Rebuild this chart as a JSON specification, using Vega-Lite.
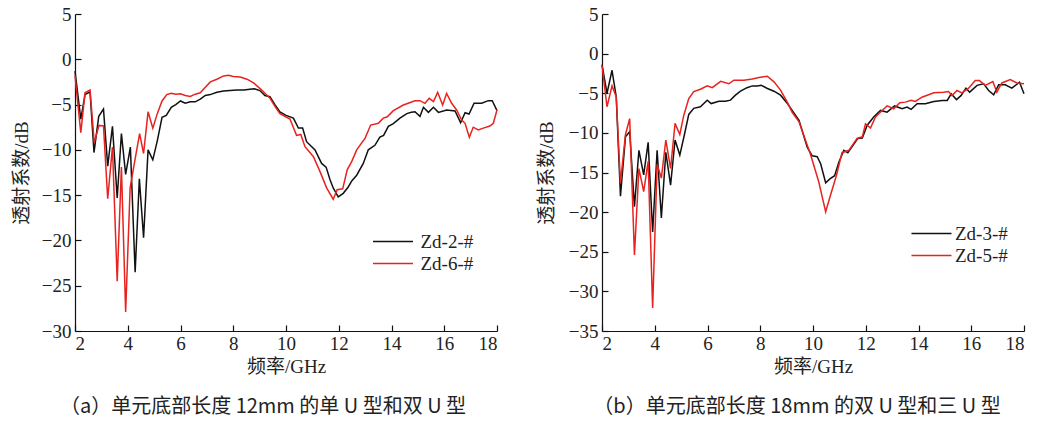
{
  "$schema": "https://vega.github.io/schema/vega-lite/v6.json",
  "padding": {"left": 12, "top": 5, "right": 2, "bottom": 8},
  "background": "white",
  "spacing": 37,
  "config": {
    "view": {"stroke": null},
    "axis": {
      "grid": false,
      "domainColor": "#111",
      "tickColor": "#111",
      "tickSize": -6,
      "domainWidth": 1.2,
      "tickWidth": 1.2,
      "labelFont": "Liberation Serif",
      "labelFontSize": 19,
      "labelColor": "#222",
      "titleFont": "Liberation Serif, Noto Sans CJK SC",
      "titleFontSize": 19,
      "titleFontWeight": "normal",
      "titleColor": "#222"
    },
    "legend": {
      "orient": "none",
      "title": null,
      "labelFont": "Liberation Serif",
      "labelFontSize": 19,
      "labelColor": "#222",
      "symbolType": "M-4,0H4",
      "symbolSize": 100,
      "symbolStrokeWidth": 1.5,
      "rowPadding": 2,
      "padding": 0
    },
    "title": {
      "orient": "bottom",
      "font": "Noto Sans CJK SC",
      "fontSize": 20,
      "fontWeight": "normal",
      "color": "#222",
      "offset": 21,
      "anchor": "middle"
    }
  },
  "datasets": {
    "a": [
      {"f":2.0,"v":-1.3,"s":"Zd-2-#"},{"f":2.22,"v":-6.6,"s":"Zd-2-#"},{"f":2.38,"v":-3.9,"s":"Zd-2-#"},{"f":2.57,"v":-3.6,"s":"Zd-2-#"},{"f":2.72,"v":-10.3,"s":"Zd-2-#"},{"f":2.9,"v":-6.3,"s":"Zd-2-#"},{"f":3.08,"v":-5.5,"s":"Zd-2-#"},{"f":3.24,"v":-11.8,"s":"Zd-2-#"},{"f":3.42,"v":-7.4,"s":"Zd-2-#"},{"f":3.6,"v":-15.3,"s":"Zd-2-#"},{"f":3.76,"v":-8.2,"s":"Zd-2-#"},{"f":3.92,"v":-12.7,"s":"Zd-2-#"},{"f":4.1,"v":-9.7,"s":"Zd-2-#"},{"f":4.28,"v":-23.5,"s":"Zd-2-#"},{"f":4.44,"v":-13.2,"s":"Zd-2-#"},{"f":4.6,"v":-19.7,"s":"Zd-2-#"},{"f":4.77,"v":-10.0,"s":"Zd-2-#"},{"f":4.95,"v":-11.1,"s":"Zd-2-#"},{"f":5.12,"v":-9.0,"s":"Zd-2-#"},{"f":5.3,"v":-6.4,"s":"Zd-2-#"},{"f":5.46,"v":-6.2,"s":"Zd-2-#"},{"f":5.65,"v":-5.3,"s":"Zd-2-#"},{"f":5.82,"v":-5.0,"s":"Zd-2-#"},{"f":6.0,"v":-4.6,"s":"Zd-2-#"},{"f":6.18,"v":-4.85,"s":"Zd-2-#"},{"f":6.37,"v":-4.7,"s":"Zd-2-#"},{"f":6.56,"v":-4.7,"s":"Zd-2-#"},{"f":6.75,"v":-4.4,"s":"Zd-2-#"},{"f":6.94,"v":-4.0,"s":"Zd-2-#"},{"f":7.13,"v":-3.9,"s":"Zd-2-#"},{"f":7.38,"v":-3.65,"s":"Zd-2-#"},{"f":7.63,"v":-3.5,"s":"Zd-2-#"},{"f":7.88,"v":-3.45,"s":"Zd-2-#"},{"f":8.14,"v":-3.4,"s":"Zd-2-#"},{"f":8.4,"v":-3.4,"s":"Zd-2-#"},{"f":8.63,"v":-3.3,"s":"Zd-2-#"},{"f":8.8,"v":-3.25,"s":"Zd-2-#"},{"f":9.01,"v":-3.45,"s":"Zd-2-#"},{"f":9.2,"v":-4.0,"s":"Zd-2-#"},{"f":9.39,"v":-4.13,"s":"Zd-2-#"},{"f":9.58,"v":-5.0,"s":"Zd-2-#"},{"f":9.77,"v":-5.8,"s":"Zd-2-#"},{"f":10.0,"v":-6.2,"s":"Zd-2-#"},{"f":10.28,"v":-6.5,"s":"Zd-2-#"},{"f":10.47,"v":-7.6,"s":"Zd-2-#"},{"f":10.63,"v":-7.6,"s":"Zd-2-#"},{"f":10.78,"v":-9.1,"s":"Zd-2-#"},{"f":11.1,"v":-10.0,"s":"Zd-2-#"},{"f":11.35,"v":-11.5,"s":"Zd-2-#"},{"f":11.52,"v":-11.9,"s":"Zd-2-#"},{"f":11.67,"v":-13.3,"s":"Zd-2-#"},{"f":11.79,"v":-14.2,"s":"Zd-2-#"},{"f":11.98,"v":-15.2,"s":"Zd-2-#"},{"f":12.17,"v":-14.8,"s":"Zd-2-#"},{"f":12.36,"v":-14.1,"s":"Zd-2-#"},{"f":12.5,"v":-13.4,"s":"Zd-2-#"},{"f":12.68,"v":-12.8,"s":"Zd-2-#"},{"f":12.93,"v":-11.5,"s":"Zd-2-#"},{"f":13.12,"v":-10.0,"s":"Zd-2-#"},{"f":13.37,"v":-9.5,"s":"Zd-2-#"},{"f":13.56,"v":-8.6,"s":"Zd-2-#"},{"f":13.7,"v":-8.4,"s":"Zd-2-#"},{"f":13.88,"v":-7.4,"s":"Zd-2-#"},{"f":14.07,"v":-7.1,"s":"Zd-2-#"},{"f":14.32,"v":-6.5,"s":"Zd-2-#"},{"f":14.58,"v":-6.0,"s":"Zd-2-#"},{"f":14.75,"v":-5.85,"s":"Zd-2-#"},{"f":14.89,"v":-5.8,"s":"Zd-2-#"},{"f":15.08,"v":-6.3,"s":"Zd-2-#"},{"f":15.21,"v":-5.3,"s":"Zd-2-#"},{"f":15.4,"v":-5.86,"s":"Zd-2-#"},{"f":15.59,"v":-5.3,"s":"Zd-2-#"},{"f":15.78,"v":-5.86,"s":"Zd-2-#"},{"f":16.09,"v":-5.6,"s":"Zd-2-#"},{"f":16.41,"v":-5.7,"s":"Zd-2-#"},{"f":16.62,"v":-7.0,"s":"Zd-2-#"},{"f":16.79,"v":-5.9,"s":"Zd-2-#"},{"f":16.94,"v":-6.05,"s":"Zd-2-#"},{"f":17.13,"v":-4.86,"s":"Zd-2-#"},{"f":17.42,"v":-4.86,"s":"Zd-2-#"},{"f":17.67,"v":-4.57,"s":"Zd-2-#"},{"f":17.82,"v":-4.57,"s":"Zd-2-#"},{"f":18.0,"v":-5.67,"s":"Zd-2-#"},
      {"f":2.0,"v":-1.8,"s":"Zd-6-#"},{"f":2.22,"v":-8.1,"s":"Zd-6-#"},{"f":2.38,"v":-3.7,"s":"Zd-6-#"},{"f":2.57,"v":-3.4,"s":"Zd-6-#"},{"f":2.73,"v":-9.2,"s":"Zd-6-#"},{"f":2.91,"v":-7.3,"s":"Zd-6-#"},{"f":3.08,"v":-7.35,"s":"Zd-6-#"},{"f":3.24,"v":-15.4,"s":"Zd-6-#"},{"f":3.42,"v":-9.7,"s":"Zd-6-#"},{"f":3.6,"v":-24.5,"s":"Zd-6-#"},{"f":3.76,"v":-11.9,"s":"Zd-6-#"},{"f":3.92,"v":-27.9,"s":"Zd-6-#"},{"f":4.09,"v":-14.2,"s":"Zd-6-#"},{"f":4.28,"v":-11.0,"s":"Zd-6-#"},{"f":4.45,"v":-8.2,"s":"Zd-6-#"},{"f":4.6,"v":-10.4,"s":"Zd-6-#"},{"f":4.77,"v":-5.8,"s":"Zd-6-#"},{"f":4.95,"v":-7.6,"s":"Zd-6-#"},{"f":5.12,"v":-6.0,"s":"Zd-6-#"},{"f":5.3,"v":-4.6,"s":"Zd-6-#"},{"f":5.48,"v":-3.9,"s":"Zd-6-#"},{"f":5.65,"v":-3.75,"s":"Zd-6-#"},{"f":5.82,"v":-3.86,"s":"Zd-6-#"},{"f":6.0,"v":-3.8,"s":"Zd-6-#"},{"f":6.18,"v":-4.0,"s":"Zd-6-#"},{"f":6.37,"v":-4.1,"s":"Zd-6-#"},{"f":6.56,"v":-3.85,"s":"Zd-6-#"},{"f":6.75,"v":-3.7,"s":"Zd-6-#"},{"f":6.94,"v":-3.1,"s":"Zd-6-#"},{"f":7.13,"v":-2.5,"s":"Zd-6-#"},{"f":7.38,"v":-2.2,"s":"Zd-6-#"},{"f":7.63,"v":-1.84,"s":"Zd-6-#"},{"f":7.82,"v":-1.76,"s":"Zd-6-#"},{"f":8.0,"v":-1.9,"s":"Zd-6-#"},{"f":8.26,"v":-1.95,"s":"Zd-6-#"},{"f":8.52,"v":-2.2,"s":"Zd-6-#"},{"f":8.77,"v":-2.6,"s":"Zd-6-#"},{"f":9.08,"v":-3.4,"s":"Zd-6-#"},{"f":9.39,"v":-4.3,"s":"Zd-6-#"},{"f":9.58,"v":-5.2,"s":"Zd-6-#"},{"f":9.77,"v":-6.0,"s":"Zd-6-#"},{"f":10.15,"v":-6.6,"s":"Zd-6-#"},{"f":10.4,"v":-8.4,"s":"Zd-6-#"},{"f":10.56,"v":-8.3,"s":"Zd-6-#"},{"f":10.72,"v":-9.65,"s":"Zd-6-#"},{"f":11.04,"v":-10.75,"s":"Zd-6-#"},{"f":11.29,"v":-12.4,"s":"Zd-6-#"},{"f":11.54,"v":-14.2,"s":"Zd-6-#"},{"f":11.79,"v":-15.45,"s":"Zd-6-#"},{"f":11.94,"v":-14.4,"s":"Zd-6-#"},{"f":12.15,"v":-14.3,"s":"Zd-6-#"},{"f":12.32,"v":-12.2,"s":"Zd-6-#"},{"f":12.49,"v":-11.3,"s":"Zd-6-#"},{"f":12.68,"v":-10.0,"s":"Zd-6-#"},{"f":13.0,"v":-8.7,"s":"Zd-6-#"},{"f":13.21,"v":-7.26,"s":"Zd-6-#"},{"f":13.5,"v":-7.07,"s":"Zd-6-#"},{"f":13.69,"v":-6.5,"s":"Zd-6-#"},{"f":13.84,"v":-6.35,"s":"Zd-6-#"},{"f":14.07,"v":-5.67,"s":"Zd-6-#"},{"f":14.45,"v":-5.05,"s":"Zd-6-#"},{"f":14.89,"v":-4.57,"s":"Zd-6-#"},{"f":15.08,"v":-4.57,"s":"Zd-6-#"},{"f":15.27,"v":-4.86,"s":"Zd-6-#"},{"f":15.43,"v":-4.31,"s":"Zd-6-#"},{"f":15.59,"v":-4.68,"s":"Zd-6-#"},{"f":15.75,"v":-3.65,"s":"Zd-6-#"},{"f":15.94,"v":-5.05,"s":"Zd-6-#"},{"f":16.09,"v":-3.76,"s":"Zd-6-#"},{"f":16.28,"v":-4.86,"s":"Zd-6-#"},{"f":16.47,"v":-5.6,"s":"Zd-6-#"},{"f":16.66,"v":-6.7,"s":"Zd-6-#"},{"f":16.79,"v":-7.07,"s":"Zd-6-#"},{"f":16.95,"v":-8.6,"s":"Zd-6-#"},{"f":17.1,"v":-7.5,"s":"Zd-6-#"},{"f":17.29,"v":-7.8,"s":"Zd-6-#"},{"f":17.48,"v":-7.6,"s":"Zd-6-#"},{"f":17.73,"v":-7.37,"s":"Zd-6-#"},{"f":17.86,"v":-7.07,"s":"Zd-6-#"},{"f":18.0,"v":-5.6,"s":"Zd-6-#"}
    ],
    "b": [
      {"f":2.0,"v":-1.4,"s":"Zd-3-#"},{"f":2.19,"v":-5.0,"s":"Zd-3-#"},{"f":2.38,"v":-2.1,"s":"Zd-3-#"},{"f":2.54,"v":-5.45,"s":"Zd-3-#"},{"f":2.7,"v":-18.0,"s":"Zd-3-#"},{"f":2.89,"v":-10.5,"s":"Zd-3-#"},{"f":3.05,"v":-9.85,"s":"Zd-3-#"},{"f":3.23,"v":-19.3,"s":"Zd-3-#"},{"f":3.4,"v":-12.2,"s":"Zd-3-#"},{"f":3.58,"v":-15.3,"s":"Zd-3-#"},{"f":3.75,"v":-11.2,"s":"Zd-3-#"},{"f":3.92,"v":-22.5,"s":"Zd-3-#"},{"f":4.09,"v":-12.2,"s":"Zd-3-#"},{"f":4.25,"v":-20.75,"s":"Zd-3-#"},{"f":4.42,"v":-12.45,"s":"Zd-3-#"},{"f":4.6,"v":-16.6,"s":"Zd-3-#"},{"f":4.77,"v":-10.9,"s":"Zd-3-#"},{"f":4.95,"v":-12.8,"s":"Zd-3-#"},{"f":5.12,"v":-10.3,"s":"Zd-3-#"},{"f":5.29,"v":-7.67,"s":"Zd-3-#"},{"f":5.48,"v":-6.9,"s":"Zd-3-#"},{"f":5.73,"v":-6.7,"s":"Zd-3-#"},{"f":5.99,"v":-5.87,"s":"Zd-3-#"},{"f":6.14,"v":-6.3,"s":"Zd-3-#"},{"f":6.43,"v":-6.0,"s":"Zd-3-#"},{"f":6.68,"v":-6.0,"s":"Zd-3-#"},{"f":6.87,"v":-5.87,"s":"Zd-3-#"},{"f":7.06,"v":-5.24,"s":"Zd-3-#"},{"f":7.25,"v":-4.74,"s":"Zd-3-#"},{"f":7.5,"v":-4.3,"s":"Zd-3-#"},{"f":7.7,"v":-4.07,"s":"Zd-3-#"},{"f":7.89,"v":-4.07,"s":"Zd-3-#"},{"f":8.04,"v":-4.0,"s":"Zd-3-#"},{"f":8.27,"v":-4.4,"s":"Zd-3-#"},{"f":8.52,"v":-4.74,"s":"Zd-3-#"},{"f":8.77,"v":-5.24,"s":"Zd-3-#"},{"f":9.03,"v":-6.3,"s":"Zd-3-#"},{"f":9.21,"v":-7.17,"s":"Zd-3-#"},{"f":9.47,"v":-8.43,"s":"Zd-3-#"},{"f":9.78,"v":-11.8,"s":"Zd-3-#"},{"f":9.97,"v":-12.9,"s":"Zd-3-#"},{"f":10.16,"v":-13.0,"s":"Zd-3-#"},{"f":10.29,"v":-13.9,"s":"Zd-3-#"},{"f":10.48,"v":-16.3,"s":"Zd-3-#"},{"f":10.64,"v":-15.8,"s":"Zd-3-#"},{"f":10.82,"v":-15.4,"s":"Zd-3-#"},{"f":10.98,"v":-13.7,"s":"Zd-3-#"},{"f":11.17,"v":-12.2,"s":"Zd-3-#"},{"f":11.32,"v":-12.5,"s":"Zd-3-#"},{"f":11.55,"v":-11.4,"s":"Zd-3-#"},{"f":11.7,"v":-10.7,"s":"Zd-3-#"},{"f":11.87,"v":-10.65,"s":"Zd-3-#"},{"f":12.05,"v":-9.06,"s":"Zd-3-#"},{"f":12.3,"v":-8.0,"s":"Zd-3-#"},{"f":12.56,"v":-7.17,"s":"Zd-3-#"},{"f":12.81,"v":-7.38,"s":"Zd-3-#"},{"f":13.09,"v":-6.6,"s":"Zd-3-#"},{"f":13.38,"v":-6.96,"s":"Zd-3-#"},{"f":13.57,"v":-6.75,"s":"Zd-3-#"},{"f":13.72,"v":-7.04,"s":"Zd-3-#"},{"f":13.95,"v":-6.33,"s":"Zd-3-#"},{"f":14.26,"v":-6.33,"s":"Zd-3-#"},{"f":14.58,"v":-6.04,"s":"Zd-3-#"},{"f":14.9,"v":-5.9,"s":"Zd-3-#"},{"f":15.09,"v":-5.9,"s":"Zd-3-#"},{"f":15.24,"v":-5.07,"s":"Zd-3-#"},{"f":15.44,"v":-5.8,"s":"Zd-3-#"},{"f":15.61,"v":-5.3,"s":"Zd-3-#"},{"f":15.8,"v":-4.36,"s":"Zd-3-#"},{"f":15.94,"v":-4.86,"s":"Zd-3-#"},{"f":16.22,"v":-4.0,"s":"Zd-3-#"},{"f":16.47,"v":-3.8,"s":"Zd-3-#"},{"f":16.66,"v":-4.65,"s":"Zd-3-#"},{"f":16.85,"v":-5.2,"s":"Zd-3-#"},{"f":17.04,"v":-3.94,"s":"Zd-3-#"},{"f":17.29,"v":-3.94,"s":"Zd-3-#"},{"f":17.54,"v":-4.36,"s":"Zd-3-#"},{"f":17.83,"v":-3.6,"s":"Zd-3-#"},{"f":18.0,"v":-5.07,"s":"Zd-3-#"},
      {"f":2.0,"v":-1.47,"s":"Zd-5-#"},{"f":2.19,"v":-6.7,"s":"Zd-5-#"},{"f":2.38,"v":-4.07,"s":"Zd-5-#"},{"f":2.54,"v":-5.45,"s":"Zd-5-#"},{"f":2.7,"v":-16.35,"s":"Zd-5-#"},{"f":2.89,"v":-10.2,"s":"Zd-5-#"},{"f":3.05,"v":-8.2,"s":"Zd-5-#"},{"f":3.23,"v":-25.4,"s":"Zd-5-#"},{"f":3.4,"v":-14.5,"s":"Zd-5-#"},{"f":3.58,"v":-17.4,"s":"Zd-5-#"},{"f":3.75,"v":-13.6,"s":"Zd-5-#"},{"f":3.92,"v":-32.1,"s":"Zd-5-#"},{"f":4.09,"v":-14.0,"s":"Zd-5-#"},{"f":4.25,"v":-15.7,"s":"Zd-5-#"},{"f":4.42,"v":-10.9,"s":"Zd-5-#"},{"f":4.6,"v":-14.5,"s":"Zd-5-#"},{"f":4.77,"v":-8.8,"s":"Zd-5-#"},{"f":4.95,"v":-10.2,"s":"Zd-5-#"},{"f":5.1,"v":-7.8,"s":"Zd-5-#"},{"f":5.29,"v":-5.66,"s":"Zd-5-#"},{"f":5.48,"v":-4.8,"s":"Zd-5-#"},{"f":5.73,"v":-4.5,"s":"Zd-5-#"},{"f":5.99,"v":-4.07,"s":"Zd-5-#"},{"f":6.18,"v":-4.3,"s":"Zd-5-#"},{"f":6.5,"v":-3.5,"s":"Zd-5-#"},{"f":6.81,"v":-3.8,"s":"Zd-5-#"},{"f":7.0,"v":-3.35,"s":"Zd-5-#"},{"f":7.38,"v":-3.35,"s":"Zd-5-#"},{"f":7.7,"v":-3.2,"s":"Zd-5-#"},{"f":7.95,"v":-3.0,"s":"Zd-5-#"},{"f":8.27,"v":-2.85,"s":"Zd-5-#"},{"f":8.52,"v":-3.56,"s":"Zd-5-#"},{"f":8.77,"v":-4.6,"s":"Zd-5-#"},{"f":9.03,"v":-6.16,"s":"Zd-5-#"},{"f":9.21,"v":-7.4,"s":"Zd-5-#"},{"f":9.47,"v":-8.6,"s":"Zd-5-#"},{"f":9.91,"v":-12.75,"s":"Zd-5-#"},{"f":10.22,"v":-16.2,"s":"Zd-5-#"},{"f":10.48,"v":-19.96,"s":"Zd-5-#"},{"f":10.66,"v":-17.9,"s":"Zd-5-#"},{"f":10.89,"v":-15.35,"s":"Zd-5-#"},{"f":11.1,"v":-12.5,"s":"Zd-5-#"},{"f":11.36,"v":-12.2,"s":"Zd-5-#"},{"f":11.67,"v":-10.7,"s":"Zd-5-#"},{"f":11.87,"v":-10.5,"s":"Zd-5-#"},{"f":11.99,"v":-8.85,"s":"Zd-5-#"},{"f":12.18,"v":-9.4,"s":"Zd-5-#"},{"f":12.37,"v":-8.0,"s":"Zd-5-#"},{"f":12.62,"v":-7.17,"s":"Zd-5-#"},{"f":12.81,"v":-6.6,"s":"Zd-5-#"},{"f":13.06,"v":-6.96,"s":"Zd-5-#"},{"f":13.29,"v":-6.2,"s":"Zd-5-#"},{"f":13.5,"v":-6.12,"s":"Zd-5-#"},{"f":13.72,"v":-5.9,"s":"Zd-5-#"},{"f":13.88,"v":-6.04,"s":"Zd-5-#"},{"f":14.13,"v":-5.5,"s":"Zd-5-#"},{"f":14.58,"v":-4.95,"s":"Zd-5-#"},{"f":14.95,"v":-4.86,"s":"Zd-5-#"},{"f":15.14,"v":-4.78,"s":"Zd-5-#"},{"f":15.27,"v":-5.3,"s":"Zd-5-#"},{"f":15.46,"v":-4.65,"s":"Zd-5-#"},{"f":15.65,"v":-4.95,"s":"Zd-5-#"},{"f":15.9,"v":-4.36,"s":"Zd-5-#"},{"f":16.15,"v":-3.4,"s":"Zd-5-#"},{"f":16.31,"v":-3.4,"s":"Zd-5-#"},{"f":16.53,"v":-4.0,"s":"Zd-5-#"},{"f":16.82,"v":-3.52,"s":"Zd-5-#"},{"f":16.97,"v":-4.86,"s":"Zd-5-#"},{"f":17.16,"v":-3.7,"s":"Zd-5-#"},{"f":17.48,"v":-3.27,"s":"Zd-5-#"},{"f":17.73,"v":-3.7,"s":"Zd-5-#"},{"f":18.0,"v":-3.8,"s":"Zd-5-#"}
    ]
  },
  "hconcat": [
    {
      "width": 422,
      "height": 317,
      "title": {"text": "（a）单元底部长度 12mm 的单 U 型和双 U 型", "dx": -23},
      "data": {"name": "a"},
      "mark": {"type": "line", "strokeWidth": 1.5},
      "encoding": {
        "x": {"field": "f", "type": "quantitative", "scale": {"domain": [2, 18], "nice": false},
              "axis": {"title": "频率/GHz", "values": [2,4,6,8,10,12,14,16,18], "labelPadding": 9, "titlePadding": 4}},
        "y": {"field": "v", "type": "quantitative", "scale": {"domain": [-30, 5], "nice": false},
              "axis": {"title": "透射系数/dB", "values": [-30,-25,-20,-15,-10,-5,0,5], "labelPadding": 10, "titlePadding": 10}},
        "color": {"field": "s", "type": "nominal",
                  "scale": {"domain": ["Zd-2-#", "Zd-6-#"], "range": ["#111111", "#e8231f"]},
                  "legend": {"legendX": 308.5, "legendY": 218, "labelOffset": 18}}
      }
    },
    {
      "width": 422,
      "height": 317,
      "title": {"text": "（b）单元底部长度 18mm 的双 U 型和三 U 型", "dx": -16},
      "data": {"name": "b"},
      "mark": {"type": "line", "strokeWidth": 1.5},
      "encoding": {
        "x": {"field": "f", "type": "quantitative", "scale": {"domain": [2, 18], "nice": false},
              "axis": {"title": "频率/GHz", "values": [2,4,6,8,10,12,14,16,18], "labelPadding": 9, "titlePadding": 4}},
        "y": {"field": "v", "type": "quantitative", "scale": {"domain": [-35, 5], "nice": false},
              "axis": {"title": "透射系数/dB", "values": [-35,-30,-25,-20,-15,-10,-5,0,5], "labelPadding": 10, "titlePadding": 12}},
        "color": {"field": "s", "type": "nominal",
                  "scale": {"domain": ["Zd-3-#", "Zd-5-#"], "range": ["#111111", "#e8231f"]},
                  "legend": {"legendX": 320, "legendY": 210, "labelOffset": 14}}
      }
    }
  ],
  "resolve": {"scale": {"color": "independent"}, "legend": {"color": "independent"}}
}
